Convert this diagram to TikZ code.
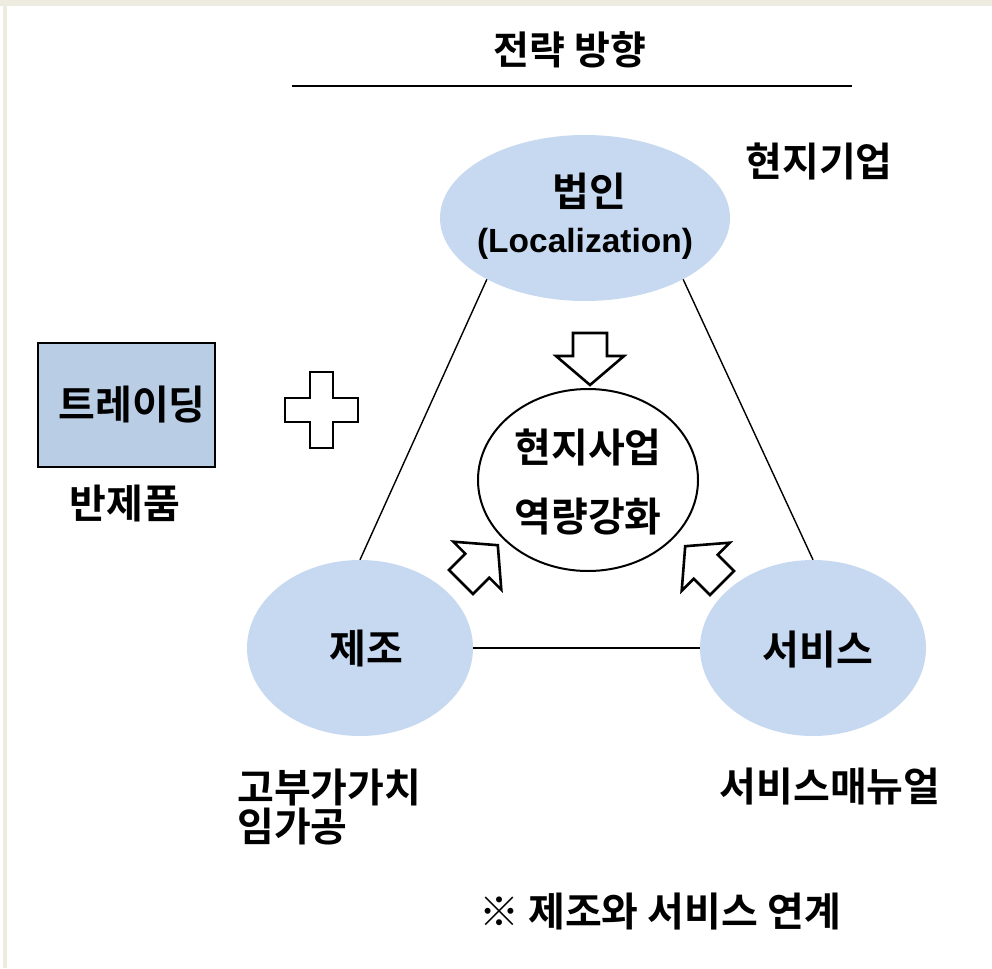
\documentclass[tikz,border=0pt]{standalone}
\usepackage{fontspec}
\setmainfont{Noto Sans CJK KR}[BoldFont={Noto Sans CJK KR Bold}]
\newfontfamily\latinfont{Liberation Sans}
\usetikzlibrary{shapes.geometric}
\definecolor{ellblue}{HTML}{C6D9F1}
\definecolor{boxblue}{HTML}{B9CDE5}
\definecolor{frame}{HTML}{EEECE1}
\tikzset{
  txt/.style={inner sep=0pt, font=\bfseries\fontsize{40}{48}\selectfont},
  blueell/.style={ellipse, fill=ellblue, draw=none, inner sep=0pt},
  conn/.style={draw=black, line width=1.4pt},
  blockarrow/.style={draw=black, fill=white, line width=2.6pt, line join=miter},
}
\begin{document}
\begin{tikzpicture}[x=1pt,y=-1pt]
\useasboundingbox (0,0) rectangle (992,968);
\fill[white] (0,0) rectangle (992,968);
% frame
\fill[frame] (0,0) rectangle (992,6);
\fill[frame] (3,0) rectangle (7,968);

% title
\node[txt, font=\bfseries\fontsize{39}{46}\selectfont] (title) at (570,50) {전략 방향};
\coordinate (tl) at (292,86);
\coordinate (tr) at (852,86);
\draw[line width=2pt] (tl) -- (tr);

% ellipses
\node[blueell, minimum width=290, minimum height=166] (law) at (585,218) {};
\node[blueell, minimum width=226, minimum height=176] (mfg) at (360,648) {};
\node[blueell, minimum width=226, minimum height=176] (svc) at (813,648) {};
\node[ellipse, draw=black, fill=white, line width=2pt, minimum width=220, minimum height=182, inner sep=0pt] (core) at (588,480) {};

% triangle connectors
\draw[conn] (law.212) -- (mfg.north);
\draw[conn] (law.328) -- (svc.north);
\draw[conn] (mfg.east) -- (svc.west);

% texts in ellipses
\node[txt] (lawA) at (589,191) {법인};
\node[inner sep=0pt, font=\latinfont\bfseries\fontsize{33.5}{40}\selectfont] (lawB) at (585,244) {(Localization)};
\node[txt] (mfgT) at (366,648) {제조};
\node[txt] (svcT) at (818,650) {서비스};
\node[txt] (coreA) at (588,447) {현지사업};
\node[txt] (coreB) at (588,517) {역량강화};

% side labels
\node[txt] (local) at (819,161) {현지기업};
\node[txt, anchor=west] (hv1) at (237,787) {고부가가치};
\node[txt, anchor=west] (hv2) at (237,826) {임가공};
\node[txt] (manual) at (830,787) {서비스매뉴얼};
\node[txt] (note) at (660,912) {※ 제조와 서비스 연계};

% trading box
\node[draw=black, fill=boxblue, line width=2pt, minimum width=177, minimum height=124, inner sep=0pt] (trade) at (126.5,405) {};
\node[txt] (tradeT) at (132,405) {트레이딩};
\node[txt] (semi) at (125,503) {반제품};

% plus sign
\draw[blockarrow] (310,372) -- (333,372) -- (333,398) -- (358,398) -- (358,422) -- (333,422) -- (333,448) -- (310,448) -- (310,422) -- (285,422) -- (285,398) -- (310,398) -- cycle;

% block arrows
\draw[blockarrow] (607,333) -- (607,356) -- (624,356) -- (590,385) -- (556,356) -- (573,356) -- (573,333) -- cycle;
\draw[blockarrow] (473,594) -- (489.3,577.7) -- (501.3,589.7) -- (497.8,545.2) -- (453.3,541.7) -- (465.3,553.7) -- (449,570) -- cycle;
\draw[blockarrow] (734,571) -- (717.7,554.7) -- (729.7,542.7) -- (685.2,546.2) -- (681.7,590.7) -- (693.7,578.7) -- (710,595) -- cycle;
\end{tikzpicture}
\end{document}
